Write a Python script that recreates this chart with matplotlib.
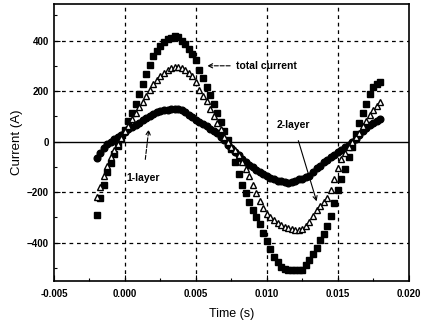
import numpy as np
import matplotlib
matplotlib.use('Agg')
import matplotlib.pyplot as plt
from matplotlib.ticker import MultipleLocator

plt.rcParams['font.family'] = ['Liberation Sans', 'DejaVu Sans']

# sample times (s), one reading every 0.25 ms
time_s = np.arange(81) * 0.00025 - 0.002

total_current = [
    -290, -225, -172, -122, -85, -50, -18, 12, 45, 80,
    115, 150, 190, 228, 268, 302, 340, 360, 380, 395,
    405, 412, 418, 415, 400, 385, 368, 348, 322, 285,
    250, 218, 185, 148, 112, 78, 40, 5, -30, -80,
    -130, -170, -205, -240, -272, -300, -328, -360, -395, -425,
    -455, -478, -495, -505, -510, -510, -510, -510, -508, -490,
    -468, -445, -420, -390, -365, -335, -295, -245, -190, -150,
    -110, -60, -20, 30, 75, 115, 150, 190, 215, 228,
    235,
]

layer2 = [
    -220, -180, -135, -95, -60, -35, -10, 15, 40, 62,
    88, 112, 135, 158, 180, 205, 228, 245, 260, 272,
    282, 291, 296, 297, 292, 285, 272, 258, 235, 205,
    182, 160, 130, 102, 75, 50, 20, 0, -20, -35,
    -55, -82, -108, -138, -170, -205, -235, -262, -285, -298,
    -310, -323, -332, -338, -342, -346, -350, -352, -345, -335,
    -318, -295, -272, -255, -240, -222, -192, -148, -105, -70,
    -45, -22, 0, 18, 35, 60, 80, 105, 125, 142,
    158,
]

layer1 = [
    -65, -45, -25, -10, 0, 10, 18, 28, 38, 48,
    58, 66, 75, 85, 95, 103, 110, 116, 120, 124,
    126, 128, 130, 128, 124, 116, 105, 96, 87, 78,
    70, 60, 50, 42, 32, 20, 5, -12, -25, -40,
    -55, -68, -80, -92, -102, -112, -122, -130, -138, -145,
    -150, -155, -158, -160, -165, -162, -155, -150, -148, -142,
    -135, -120, -105, -95, -82, -72, -62, -52, -42, -33,
    -22, -12, 0, 10, 25, 40, 55, 65, 75, 82,
    88,
]

fig = plt.figure(figsize=(4.25, 3.26), dpi=100)
ax = fig.add_axes([0.127, 0.138, 0.835, 0.850])

ax.plot(time_s, total_current, ls='none', marker='s', ms=4.6, color='black', zorder=3)
ax.plot(time_s, layer2, ls='none', marker='^', ms=5.0, mfc='white', mec='black', mew=1.0, zorder=4)
ax.plot(time_s, layer1, ls='none', marker='o', ms=4.8, color='black', zorder=3)

ax.set_xlim(-0.005, 0.020)
ax.set_ylim(-552, 545)
ax.set_xticks([-0.005, 0.0, 0.005, 0.010, 0.015, 0.020])
ax.set_xticklabels(['-0.005', '0.000', '0.005', '0.010', '0.015', '0.020'])
ax.set_yticks([-400, -200, 0, 200, 400])
ax.xaxis.set_minor_locator(MultipleLocator(0.0025))
ax.yaxis.set_minor_locator(MultipleLocator(100))
ax.tick_params(which='both', direction='in', labelsize=7, width=0.8)
ax.tick_params(which='major', length=4)
ax.tick_params(which='minor', length=2)
ax.tick_params(axis='x', pad=6)
for lab in ax.get_xticklabels() + ax.get_yticklabels():
    lab.set_fontweight('bold')

for x in [0.0, 0.005, 0.010, 0.015]:
    ax.axvline(x, color='black', ls=(0, (3, 3)), lw=0.9, zorder=1)
for y in [-400, -200, 200, 400]:
    ax.axhline(y, color='black', ls=(0, (3, 3)), lw=0.9, zorder=1)
ax.axhline(0, color='black', lw=1.0, zorder=1)

for s in ax.spines.values():
    s.set_linewidth(1.2)

ax.set_xlabel('Time (s)', fontsize=9, labelpad=6)
ax.set_ylabel('Current (A)', fontsize=9.5, labelpad=3)

# annotations
ax.annotate('total current', xy=(0.0056, 300), xytext=(0.0078, 300),
            fontsize=7.5, fontweight='bold', va='center', ha='left',
            arrowprops=dict(arrowstyle='->', lw=0.8, color='black', ls='--'))
ax.annotate('2-layer', xy=(0.01356, -247), xytext=(0.0107, 66),
            fontsize=7.5, fontweight='bold', va='center', ha='left',
            arrowprops=dict(arrowstyle='->', lw=0.8, color='black', shrinkA=6))
ax.annotate('1-layer', xy=(0.0017, 59), xytext=(0.0001, -145),
            fontsize=7.5, fontweight='bold', va='center', ha='left',
            arrowprops=dict(arrowstyle='->', lw=0.8, color='black', ls='--', shrinkA=8))

fig.savefig('out.png', dpi=100)
